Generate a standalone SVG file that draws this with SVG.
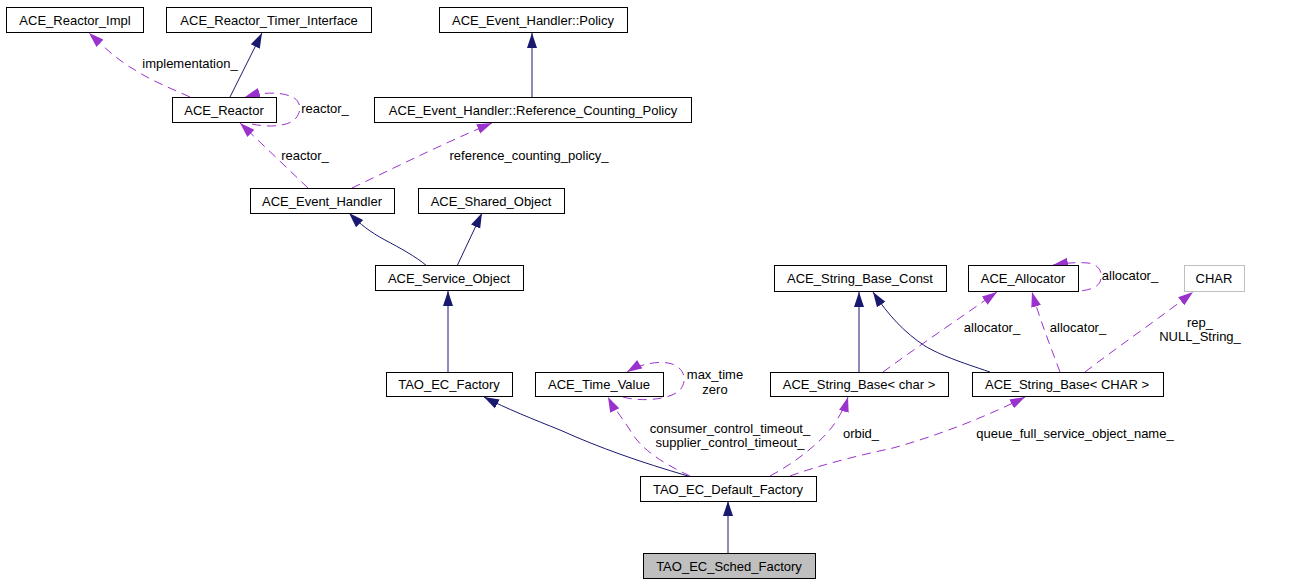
<svg xmlns="http://www.w3.org/2000/svg" width="1303" height="584" viewBox="0 0 1303 584">
<style>
.n rect{fill:#fff;stroke:#000;stroke-width:1}
.n text{font-family:"Liberation Sans",Arial,sans-serif;font-size:13px;text-anchor:middle;fill:#000}
.l{font-family:"Liberation Sans",Arial,sans-serif;font-size:13px;text-anchor:middle;fill:#000}
.inh{fill:none;stroke:#191970;stroke-width:1;marker-end:url(#an)}
.use{fill:none;stroke:#9a32cd;stroke-width:1;stroke-dasharray:9,6;marker-end:url(#ap)}
</style>
<defs>
<marker id="an" markerUnits="userSpaceOnUse" markerWidth="16" markerHeight="12" refX="15" refY="5" orient="auto" viewBox="0 0 16 10">
<path d="M0,0 L15,5 L0,10 z" fill="#191970"/>
</marker>
<marker id="ap" markerUnits="userSpaceOnUse" markerWidth="16" markerHeight="12" refX="15" refY="5" orient="auto" viewBox="0 0 16 10">
<path d="M0,0 L15,5 L0,10 z" fill="#9a32cd"/>
</marker>
</defs>
<rect width="1303" height="584" fill="#fff"/>
<g id="edges">
<path class="use" d="M190,97 C170,88 150,80 135,70 C120,62 105,48 89,33"/>
<text class="l" x="190" y="68">implementation_</text>
<path class="inh" d="M230,97 L262,33"/>
<path class="use" d="M252,124 C270,128 290,126 296,118 C304,108 298,98 290,96 C280,92 262,92 245,97"/>
<text class="l" x="325" y="113">reactor_</text>
<path class="use" d="M308,188 L240,123"/>
<text class="l" x="305" y="160">reactor_</text>
<path class="use" d="M352,188 C390,170 440,145 492,123"/>
<text class="l" x="529" y="160">reference_counting_policy_</text>
<path class="inh" d="M532,97 L532,33"/>
<path class="inh" d="M427,266 C415,256 400,248 385,240 C370,232 360,224 349,213"/>
<path class="inh" d="M457,266 L482,213"/>
<path class="inh" d="M448,372 L448,291"/>
<path class="inh" d="M688,476 C640,462 600,448 560,430 C535,420 505,408 484,397"/>
<path class="use" d="M690,476 C660,462 640,448 630,430 C620,415 612,405 608,397"/>
<text class="l" x="730" y="433">consumer_control_timeout_</text>
<text class="l" x="730" y="447">supplier_control_timeout_</text>
<path class="use" d="M623,397 C640,402 670,400 680,390 C688,380 684,368 672,364 C660,360 640,364 627,372"/>
<text class="l" x="715" y="379">max_time</text>
<text class="l" x="715" y="394">zero</text>
<path class="use" d="M770,476 C800,460 825,438 835,423 C842,412 846,404 848,397"/>
<text class="l" x="861" y="438">orbid_</text>
<path class="use" d="M790,476 C820,465 860,455 893,448 C940,435 990,415 1025,397"/>
<text class="l" x="1075" y="438">queue_full_service_object_name_</text>
<path class="inh" d="M859,372 L859,292"/>
<path class="inh" d="M990,372 C960,362 940,355 925,346 C905,333 888,315 873,292"/>
<path class="use" d="M883,372 C920,345 960,318 997,292"/>
<text class="l" x="992" y="332">allocator_</text>
<path class="use" d="M1060,372 C1050,345 1040,320 1032,292"/>
<text class="l" x="1078" y="332">allocator_</text>
<path class="use" d="M1067,291 C1080,292 1096,290 1100,282 C1104,272 1098,264 1088,263 C1078,262 1066,263 1053,265"/>
<text class="l" x="1130" y="280">allocator_</text>
<path class="use" d="M1085,372 C1120,345 1160,318 1193,292"/>
<text class="l" x="1200" y="327">rep_</text>
<text class="l" x="1200" y="341">NULL_String_</text>
</g>
<g id="ACE_Reactor_Impl" class="n"><rect x="6.5" y="7.5" width="137" height="25"/><text x="75" y="24.5">ACE_Reactor_Impl</text></g>
<g id="ACE_Reactor_Timer_Interface" class="n"><rect x="166.5" y="7.5" width="205" height="25"/><text x="269" y="24.5">ACE_Reactor_Timer_Interface</text></g>
<g id="ACE_Event_Handler_Policy" class="n"><rect x="439.5" y="7.5" width="188" height="25"/><text x="533" y="24.5">ACE_Event_Handler::Policy</text></g>
<g id="ACE_Reactor" class="n"><rect x="172.5" y="97.5" width="104" height="25"/><text x="224" y="114.5">ACE_Reactor</text></g>
<g id="ACE_Event_Handler_Reference_Counting_Policy" class="n"><rect x="374.5" y="97.5" width="317" height="25"/><text x="533" y="114.5">ACE_Event_Handler::Reference_Counting_Policy</text></g>
<g id="ACE_Event_Handler" class="n"><rect x="250.5" y="188.5" width="144" height="25"/><text x="322" y="205.5">ACE_Event_Handler</text></g>
<g id="ACE_Shared_Object" class="n"><rect x="418.5" y="188.5" width="146" height="25"/><text x="491" y="205.5">ACE_Shared_Object</text></g>
<g id="ACE_Service_Object" class="n"><rect x="375.5" y="265.5" width="148" height="25"/><text x="449" y="282.5">ACE_Service_Object</text></g>
<g id="ACE_String_Base_Const" class="n"><rect x="774.5" y="265.5" width="172" height="26"/><text x="860" y="283">ACE_String_Base_Const</text></g>
<g id="ACE_Allocator" class="n"><rect x="968.5" y="265.5" width="110" height="26"/><text x="1023" y="283">ACE_Allocator</text></g>
<g id="CHAR" class="n"><rect x="1184.5" y="265.5" width="60" height="26" style="stroke:#bfbfbf"/><text x="1214" y="283">CHAR</text></g>
<g id="TAO_EC_Factory" class="n"><rect x="386.5" y="372.5" width="126" height="24"/><text x="449" y="389">TAO_EC_Factory</text></g>
<g id="ACE_Time_Value" class="n"><rect x="535.5" y="372.5" width="128" height="24"/><text x="599" y="389">ACE_Time_Value</text></g>
<g id="ACE_String_Base_char" class="n"><rect x="770.5" y="372.5" width="178" height="24"/><text x="859" y="389">ACE_String_Base&lt; char &gt;</text></g>
<g id="ACE_String_Base_CHAR" class="n"><rect x="972.5" y="372.5" width="191" height="24"/><text x="1067" y="389">ACE_String_Base&lt; CHAR &gt;</text></g>
<g id="TAO_EC_Default_Factory" class="n"><rect x="640.5" y="476.5" width="176" height="25"/><text x="728" y="493.5">TAO_EC_Default_Factory</text></g>
<g id="TAO_EC_Sched_Factory" class="n"><rect x="643.5" y="553.5" width="172" height="25" style="fill:#bfbfbf"/><text x="729" y="570.5">TAO_EC_Sched_Factory</text></g>
<g id="edges2"><path class="inh" d="M728,553 L728,501"/></g>
</svg>
